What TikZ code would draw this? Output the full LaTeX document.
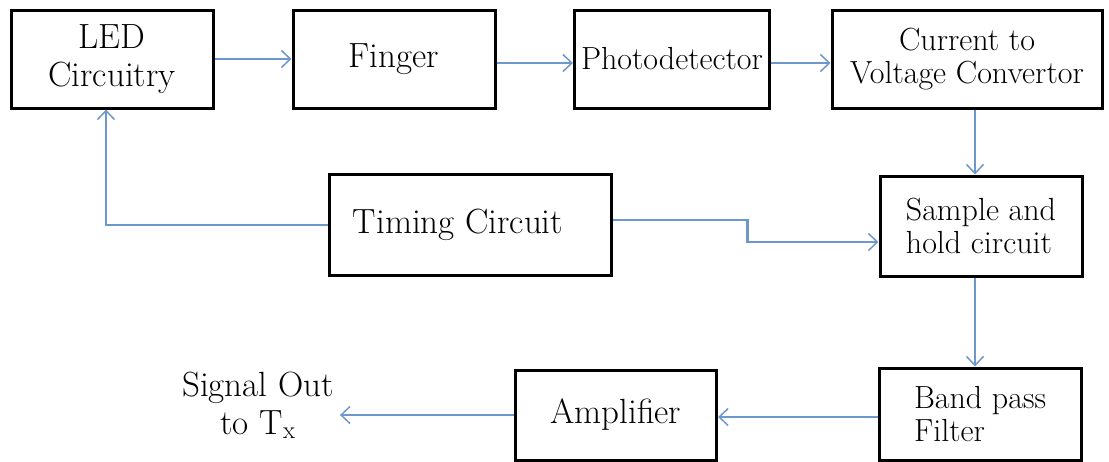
\documentclass[tikz,border=0pt]{standalone}
\usetikzlibrary{arrows.meta}
\definecolor{linkblue}{RGB}{110,152,204}
\begin{document}
\begin{tikzpicture}[
 x=1pt,y=-1pt,
 block/.style={draw,line width=3pt,inner sep=0pt,minimum width=202pt,minimum height=98pt,align=center},
 bigtxt/.style={font=\fontsize{35}{38}\selectfont},
 smalltxt/.style={font=\fontsize{32}{33}\selectfont},
 link/.style={draw=linkblue,line width=1.7pt,-{Straight Barb[length=9pt,width=17pt,line width=1.5pt]}},
 heavy/.style={line width=2.8pt}]
 \useasboundingbox (0,0) rectangle (1109,461);
 % Top row: light source to converter.
 \node[block,bigtxt] (led) at (112,59) {LED\\Circuitry};
 \node[block,bigtxt] (fin) at (394,59) {Finger};
 \node[block,smalltxt,minimum width=195pt] (pho) at (672,59) {Photodetector};
 \node[block,smalltxt,minimum width=270pt] (cur) at (967,59) {Current to\\Voltage Convertor};
 % Middle row.
 \node[block,bigtxt,minimum width=282pt,minimum height=101pt] (tim) at (470,225) {Timing Circuit\hspace*{24pt}};
 \node[block,smalltxt,minimum height=100pt,align=left] (sam) at (981,226) {Sample and\\hold circuit};
 % Bottom row.
 \node[block,smalltxt,minimum height=92pt,align=left] (ban) at (980,414) {Band pass\\Filter};
 \node[block,bigtxt,minimum width=201pt,minimum height=90pt] (amp) at (616,415) {Amplifier};
 \node[bigtxt,align=center,inner sep=6pt] (sig) at (258,405) {Signal Out\\to T\textsubscript{x}};
 % Connectors.
 \draw[link] (led) -- (fin);
 \draw[link,heavy] ([yshift=-4pt]fin.east) -- ([yshift=-4pt]pho.west);
 \draw[link,heavy] ([yshift=-4pt]pho.east) -- ([yshift=-4pt]cur.west);
 \draw[link] ([xshift=-6pt]sam.north |- cur.south) -- ([xshift=-6pt]sam.north);
 \draw[link,heavy] ([yshift=5pt]tim.east) -- ++(135,0) |- ([yshift=-16pt]sam.west);
 \draw[link] (tim.west) -| ([xshift=-6pt]led.south);
 \draw[link] ([xshift=-6pt]sam.south) -- ([xshift=-6pt]sam.south |- ban.north);
 \draw[link] ([yshift=-3pt]ban.west) -- ([yshift=-3pt]ban.west -| amp.east);
 \draw[link] (amp.west) -- (amp.west -| sig.east);
\end{tikzpicture}
\end{document}
